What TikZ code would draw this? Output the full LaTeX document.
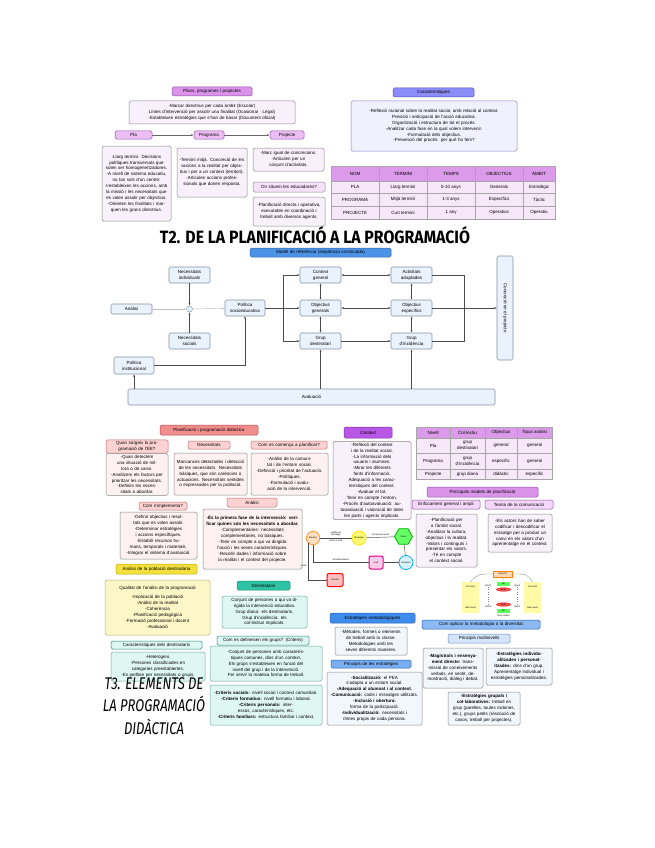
\documentclass[tikz,border=0pt]{standalone}
\usepackage{fontspec}
\setmainfont{Liberation Sans}
\newfontfamily\handfont{Fira Sans}
\usetikzlibrary{arrows.meta,shapes.geometric}
\newcommand\smalltxt{\fontsize{4.5}{5.9}\selectfont}
\newcommand\tinytxt{\fontsize{2.3}{2.8}\selectfont}

\definecolor{purHdr}{HTML}{DB93EA}
\definecolor{purLight}{HTML}{EDBDF5}
\definecolor{purEdge}{HTML}{8E4FA3}
\definecolor{lilac}{HTML}{F8F1FB}
\definecolor{noteEdge}{HTML}{8A8A8A}
\definecolor{periHdr}{HTML}{8D8DF7}
\definecolor{periEdge}{HTML}{4F4FB8}
\definecolor{periLight}{HTML}{F1F1FE}
\definecolor{tabHead}{HTML}{DC9BEA}
\definecolor{tabCell}{HTML}{F7E8F9}
\definecolor{flowHdr}{HTML}{4B93E6}
\definecolor{flowFill}{HTML}{EAF2FC}
\definecolor{flowEdge}{HTML}{8593A3}
\definecolor{salmon}{HTML}{F08D8D}
\definecolor{salmonEdge}{HTML}{B54A4A}
\definecolor{pinkHdr}{HTML}{FCD2D2}
\definecolor{pinkNote}{HTML}{FDF1F1}
\definecolor{lemon}{HTML}{F3E03C}
\definecolor{lemonEdge}{HTML}{BFA800}
\definecolor{violet}{HTML}{B857E6}
\definecolor{violetEdge}{HTML}{7A2EA6}
\definecolor{cream}{HTML}{FCF7C6}
\definecolor{creamEdge}{HTML}{B8B070}
\definecolor{teal}{HTML}{2EC4A3}
\definecolor{tealEdge}{HTML}{1C8A72}
\definecolor{aqua}{HTML}{DFF7F3}
\definecolor{aquaEdge}{HTML}{6EA9A0}
\definecolor{royal}{HTML}{3F8CEB}
\definecolor{royalEdge}{HTML}{2160B4}
\definecolor{skyHdr}{HTML}{8DB9F3}
\definecolor{ice}{HTML}{F2F6FD}
\definecolor{iceHdr}{HTML}{D5E4FA}

\begin{document}
\begin{tikzpicture}[x=1pt, y=-1pt,
    every node/.style={font=\smalltxt, inner sep=1.5pt},
    sz/.code 2 args={\pgfmathsetmacro\boxtw{#1-4}%
      \edef\boxopts{\noexpand\tikzset{minimum width=#1pt,minimum height=#2pt,text width=\boxtw pt}}\boxopts},
    card/.style={rounded corners=1.5pt, align=center, line width=.5pt},
    phdr/.style={card, fill=purHdr, draw=purEdge},
    plhdr/.style={card, fill=purLight, draw=purEdge},
    pnote/.style={card, fill=lilac, draw=noteEdge},
    bhdr/.style={card, fill=periHdr, draw=periEdge},
    bnote/.style={card, fill=periLight, draw=periEdge!70},
    thead/.style={draw=gray!70, fill=tabHead, align=center, inner sep=.5pt},
    tcell/.style={draw=gray!70, fill=tabCell, align=center, inner sep=.5pt},
    fnode/.style={card, fill=flowFill, draw=flowEdge, line width=.6pt},
    fhdr/.style={card, fill=flowHdr, draw=flowHdr!70!black},
    rhdr/.style={card, fill=salmon, draw=salmonEdge},
    pkhdr/.style={card, fill=pinkHdr, draw=salmonEdge!80},
    pknote/.style={card, fill=pinkNote, draw=noteEdge},
    vhdr/.style={card, fill=violet, draw=violetEdge},
    chdr/.style={card, fill=teal, draw=tealEdge},
    cnote/.style={card, fill=aqua, draw=aquaEdge},
    lhdr/.style={card, fill=aqua, draw=tealEdge},
    ehdr/.style={card, fill=royal, draw=royalEdge},
    inote/.style={card, fill=ice, draw=noteEdge},
    link/.style={draw=gray!80!black, line width=.45pt},
    farr/.style={draw=black!70, line width=.45pt},
    >={Latex[length=2.4pt,width=2pt]}]

\useasboundingbox (0,0) rectangle (655,848);
\fill[white] (0,0) rectangle (655,848);

% plans, programes i projectes
\node[phdr, sz={80}{9}] (planshdr) at (212,91.5) {Plans, programes i projectes};
\node[pnote, sz={166}{23}] (plansdesc) at (212,112.5) {-Marcar directrius per cada àmbit (Escolar)\\Línies d'intervenció per assolir una finalitat (Ocasional · Legal)\\-Estableixen estratègies que s'han de basar (Document oficial)};
\node[plhdr, sz={37}{8}] (pla) at (133.5,135) {Pla};
\node[plhdr, sz={30}{8}] (programa) at (209,135) {Programa};
\node[plhdr, sz={34}{8}] (projecte) at (287,135) {Projecte};
\draw[link,->] (pla) -- (programa);
\draw[link,->] (programa) -- (projecte);
\node[pnote, sz={69}{75}] (platext) at (136.5,183.5) {-Llarg termini. Decisions polítiques transversals que solen ser homogeneïtzadores.\\-A nivell de sistema educatiu, no tan sols d'un centre: s'estableixen les accions, amb la missió i les necessitats que es volen assolir per objectius.\\-Orienten les finalitats i marquen les grans directrius.};
\node[pnote, sz={70}{49}] (progtext) at (212,172.5) {-Termini mitjà. Concreció de les accions a la realitat per objectius i per a un context (territori).\\-Articulen accions professionals que donen resposta.};
\node[pnote, sz={71}{23}] (projtext) at (288.5,159.5) {-Marc igual de concrecions.\\-Articulen per un conjunt d'activitats.};
\node[pnote, fill=purLight!45, sz={72}{10}] (edu) at (289,187) {On situem les educadores?};
\node[pnote, sz={72}{29}] (edutext) at (289,211.5) {-Planificació directa i operativa, executable en coordinació i treball amb diversos agents.};

% característiques
\node[bhdr, sz={81}{9}] (caracthdr) at (433.5,92.5) {Característiques};
\node[bnote, sz={166}{50}] (caracttext) at (434,126) {-Reflexió racional sobre la realitat social, amb relació al context.\\Previsió i anticipació de l'acció educativa.\\Organització i estructura de tot el procés.\\-Analitzar cada fase en la qual volem intervenir.\\-Formulació dels objectius.\\-Prevenció del procés: per què ho fem?};

% taula de nivells
\foreach \cx/\cw/\txt [count=\c] in {355/48/NOM,403/48/TERMINI,451/48/TEMPS,499/48/OBJECTIUS,539/32/ÀMBIT}
  \node[thead, minimum width=\cw pt, minimum height=15pt] (ta\c) at (\cx,173.5) {\txt};
\foreach \ry/\rh/\ca/\cb/\cc/\cd/\ce [count=\r] in {187/12/PLA/Llarg termini/5-10 anys/Generals/Estratègic,199.5/13/PROGRAMA/Mitjà termini/1-3 anys/Específics/Tàctic,212.5/13/PROJECTE/Curt termini/1 any/Operatius/Operatiu} {
  \node[tcell, minimum width=48pt, minimum height=\rh pt] (tb\r a) at (355,\ry) {\ca};
  \node[tcell, minimum width=48pt, minimum height=\rh pt] (tb\r b) at (403,\ry) {\cb};
  \node[tcell, minimum width=48pt, minimum height=\rh pt] (tb\r c) at (451,\ry) {\cc};
  \node[tcell, minimum width=48pt, minimum height=\rh pt] (tb\r d) at (499,\ry) {\cd};
  \node[tcell, minimum width=32pt, minimum height=\rh pt] (tb\r e) at (539,\ry) {\ce};
}

\node (titleA) at (315,235) {\resizebox{310pt}{17pt}{\handfont\bfseries T2. DE LA PLANIFICACIÓ A LA PROGRAMACIÓ}};

% model de referència
\node[fhdr, sz={141}{9}] (modelhdr) at (320.5,252.5) {Model de referència (seqüència continuada)};
\node[fnode, sz={41}{16}] (necind) at (189.5,275) {Necessitats\\individuals};
\node[fnode, sz={41}{10}] (analisi) at (131.5,309) {Anàlisi};
\node[circle, draw=flowEdge, fill=cyan!15, minimum size=6pt, inner sep=0] (junc) at (189.5,309) {};
\node[fnode, sz={41}{16}] (necsoc) at (189.5,341) {Necessitats\\socials};
\node[fnode, sz={40}{16}] (politica) at (245,308) {Política\\socioeducativa};
\node[fnode, sz={41}{16}] (context) at (320.5,275) {Context\\general};
\node[fnode, sz={41}{16}] (objgen) at (320.5,308) {Objectius\\generals};
\node[fnode, sz={41}{16}] (grupdest) at (320.5,341) {Grup\\destinatari};
\node[fnode, sz={41}{16}] (activ) at (411.5,275) {Activitats\\adaptades};
\node[fnode, sz={41}{16}] (objesp) at (411.5,308) {Objectius\\específics};
\node[fnode, sz={41}{16}] (grupinc) at (411.5,341) {Grup\\d'incidència};
\node[fnode, rotate=-90, sz={104}{16}] (concrecio) at (505,308) {Concreció en el projecte};
\node[fnode, sz={40}{17}] (polinst) at (134,365.5) {Política\\institucional};
\node[fnode, sz={367}{16}] (avaluacio) at (311.5,397) {Avaluació};
\coordinate (branch) at (283,308);
\coordinate (collect) at (464,308);
\draw[farr, draw=gray!50, ->] (analisi) -- (junc);
\draw[farr, ->] (necind) -- (junc);
\draw[farr, ->] (necsoc) -- (junc);
\draw[farr, draw=gray!50, ->] (junc) -- (politica);
\draw[farr, ->] (politica) -- (objgen);
\draw[farr, ->] (branch) |- (context);
\draw[farr, ->] (branch) |- (grupdest);
\draw[farr, <->] (context) -- (objgen);
\draw[farr, <->] (objgen) -- (grupdest);
\draw[farr, <->] (context) -- (activ);
\draw[farr, <->] (objgen) -- (objesp);
\draw[farr, ->] (grupdest) -- (grupinc);
\draw[farr, <->] (activ) -- (objesp);
\draw[farr, <->] (objesp) -- (grupinc);
\draw[farr] (activ.east) -| (collect);
\draw[farr] (grupinc.east) -| (collect);
\draw[farr, ->] (objesp) -- (concrecio);
\draw[farr, ->] (avaluacio.north -| grupdest) -- (grupdest);
\draw[farr, ->] (avaluacio.north -| grupinc) -- (grupinc);
\draw[farr, ->] (avaluacio.north -| polinst) -- (polinst);
\draw[farr, ->] (polinst) -| (politica);

% planificació i programació didàctica
\node[rhdr, sz={98}{10}] (planhdr) at (209,430) {Planificació i programació didàctica};
\node[pkhdr, sz={62}{13}] (quan) at (137,446.5) {Quan sorgeix la programació de l'EE?};
\node[pkhdr, sz={42}{8}] (necess) at (209,445) {Necessitats};
\node[pkhdr, sz={76}{8}] (coms) at (289,445) {Com es comença a planificar?};
\node[pknote, sz={62}{37}] (quantext) at (137,474.5) {-Quan detectem una situació de millora o de canvi.\\-Analitzem els factors per prioritzar les necessitats.\\-Definim les necessitats a abordar.};
\node[pknote, sz={73}{42}] (necesstext) at (210.5,474) {Mancances detectades i detecció de les necessitats. Necessitats bàsiques, que són carències o actuacions. Necessitats sentides o expressades per la població.};
\node[pknote, sz={77}{42}] (comstext) at (289.5,474) {-Anàlisi de la comunitat i de l'entorn social.\\-Definició i prioritat de l'actuació.\\-Polítiques.\\-Formulació i avaluació de la intervenció.};
\node[pkhdr, sz={48}{8}] (implementa) at (163,506) {Com s'implementa?};
\node[pkhdr, sz={50}{9}] (analisib) at (252,502.5) {Anàlisi};
\node[pknote, sz={77}{47}] (impltext) at (158.5,535.5) {-Definir objectius i resultats que es volen assolir.\\-Determinar estratègies i accions específiques.\\-Establir recursos humans, temporals i materials.\\-Integrar el sistema d'avaluació.};
\node[pknote, sz={99}{60}] (analtext) at (252.5,539) {\textbf{-És la primera fase de la intervenció: verificar quines són les necessitats a abordar.}\\-Complementàries: necessitats complementàries, no bàsiques.\\-Tenir en compte a qui va dirigida l'acció i les seves característiques.\\-Recollir dades i informació sobre la realitat i el context del projecte.};
\node[card, fill=lemon, draw=lemonEdge, sz={81}{10}] (poblacio) at (156.5,569) {Anàlisi de la població destinatària};

% context
\node[vhdr, sz={48}{11}] (contexthdr) at (368,432.5) {Context};
\node[pnote, sz={78}{75}] (contexttext) at (372,480.5) {-Reflexió del context i de la realitat social.\\-La informació dels usuaris i alumnes.\\-Mirar les diferents fonts d'informació.\\Adequació a les característiques del context.\\-Avaluar el tot.\\Tenir en compte l'entorn.\\-Procés d'autoavaluació: autoavaluació i valoració de totes les parts i agents implicats.};

% taula de col·lectius
\foreach \cx/\cw/\txt [count=\c] in {433/34/Nivell,467.5/35/Col·lectiu,501/32/Objectius,534.5/35/Tipus anàlisi}
  \node[thead, minimum width=\cw pt, minimum height=11pt] (tc\c) at (\cx,432.5) {\txt};
\foreach \ry/\rh/\ca/\cb/\cc/\cd [count=\r] in {445.5/15/Pla/grup\\destinatari/general/general,461/16/Programa/grup\\d'incidència/específic/general,474/10/Projecte/grup diana/didàctic/específic} {
  \node[tcell, minimum width=34pt, minimum height=\rh pt] (td\r a) at (433,\ry) {\ca};
  \node[tcell, minimum width=35pt, minimum height=\rh pt] (td\r b) at (467.5,\ry) {\cb};
  \node[tcell, minimum width=32pt, minimum height=\rh pt] (td\r c) at (501,\ry) {\cc};
  \node[tcell, minimum width=35pt, minimum height=\rh pt] (td\r d) at (534.5,\ry) {\cd};
}

\node[phdr, sz={111}{10}] (modelshdr) at (482.5,492) {Principals models de planificació};
\node[plhdr, fill=purLight!60, sz={68}{9}] (enfoc) at (446,504.5) {Enfocament general i ampli};
\node[plhdr, fill=purLight!60, sz={68}{9}] (teoria) at (519,504.5) {Teoria de la comunicació};
\node[pnote, sz={61}{53}] (enfoctext) at (446.5,540.5) {-Planificació per a l'àmbit social.\\-Analitzar la cultura, objectius i la realitat.\\-Valors i continguts i presentar els valors.\\-Té en compte el context social.};
\node[pnote, sz={64}{38}] (teoriatext) at (520,533) {-Els actors han de saber codificar i descodificar el missatge per a produir un canvi en els valors d'un aprenentatge en el context.};

% esquema de la comunicació
\node[circle, draw=orange!80, fill=orange!25, line width=.8pt, minimum size=13.5pt, inner sep=0, font=\tinytxt] (emissor) at (313,538) {Emissor};
\node[circle, draw=yellow!90!orange, fill=yellow!55, line width=.8pt, minimum size=14pt, inner sep=0, font=\tinytxt] (missatge) at (359,538) {Missatge};
\node[regular polygon, regular polygon sides=6, draw=green!70!black, fill=green!60, line width=.8pt, minimum size=18pt, inner sep=0, font=\tinytxt] (canal) at (403.5,536.5) {Canal};
\node[circle, draw=cyan, fill=cyan!15, line width=.8pt, minimum size=14pt, inner sep=0, font=\tinytxt] (receptor) at (406,562.5) {Receptor};
\node[draw=magenta, fill=magenta!20, rounded corners=2pt, line width=1pt, minimum width=14pt, minimum height=13pt, inner sep=0, font=\tinytxt] (codi) at (376,562.5) {Codi};
\node[draw=red, fill=red!25, rounded corners=2pt, line width=1pt, minimum width=16pt, minimum height=13pt, inner sep=0, font=\tinytxt] (soroll) at (335,580) {Context};
\draw[farr] (emissor) -- node[above, font=\tinytxt, align=center] {codifica el\\missatge} node[below, font=\tinytxt] {amb un codi} (missatge);
\draw[farr] (missatge) -- node[above, font=\tinytxt] {s'envia pel canal} (canal);
\draw[farr] (canal) -- (receptor);
\draw[farr] (receptor) -- (codi);
\draw[farr] (codi.west) -| node[pos=.25, above, font=\tinytxt] {retroalimentació} (emissor.south);
\draw[farr] (soroll.west) -| node[pos=.7, left, font=\tinytxt, align=center] {soroll} (emissor.south west);

% nivells
\node[draw=orange, fill=orange!30, minimum width=19pt, minimum height=6pt, inner sep=0, font=\tinytxt] (pyrtop) at (502.5,574) {Alumnat};
\node[fill=yellow!35, minimum width=17pt, minimum height=31pt, inner sep=.5pt, font=\tinytxt, align=center] (pyrleft) at (470.5,597.5) {Alt nivell\\[18pt]Baix nivell};
\node[fill=yellow!35, minimum width=17pt, minimum height=31pt, inner sep=.5pt, font=\tinytxt, align=center] (pyrright) at (532.5,597.5) {Alt nivell\\[18pt]Baix nivell};
\node[fill=green!65, minimum width=13pt, minimum height=4pt, inner sep=0, font=\tinytxt] (grnA) at (503.5,583.5) {Bé};
\node[ellipse, draw=red, fill=red!65, minimum width=14pt, minimum height=3.5pt, inner sep=0, font=\tinytxt] (redA) at (503.5,589.5) {Ajuda};
\node[ellipse, draw=red, fill=red!65, minimum width=14pt, minimum height=3.5pt, inner sep=0, font=\tinytxt] (redB) at (503.5,604.5) {Ajuda};
\node[fill=green!65, minimum width=13pt, minimum height=4pt, inner sep=0, font=\tinytxt] (grnB) at (503.5,610.5) {Bé};
\node[font=\tinytxt, inner sep=0] (lvA) at (488,586) {Nivell};
\node[font=\tinytxt, inner sep=0] (lvB) at (488,607) {Nivell};
\node[font=\tinytxt, inner sep=0] (lvC) at (517,586) {Nivell};
\node[font=\tinytxt, inner sep=0] (lvD) at (517,607) {Nivell};
\node[font=\tinytxt, inner sep=0] (pyrfoot) at (503.5,616) {Grup classe};
\draw[gray, line width=.3pt] (pyrtop.west) .. controls (478,574) .. (pyrleft.north);
\draw[gray, line width=.3pt] (pyrtop.east) .. controls (527,574) .. (pyrright.north);
\draw[gray, line width=.3pt] (pyrtop) -- (grnA);
\draw[gray, dotted] (lvA) -- (lvB);
\draw[gray, dotted] (lvC) -- (lvD);

% destinataris
\node[card, fill=cream, draw=creamEdge, sz={105}{55}] (qualitat) at (157.5,607.5) {Qualitat de l'anàlisi de la programació\\[3pt]-Implicació de la població\\-Anàlisi de la realitat\\-Coherència\\-Planificació pedagògica\\-Formació professional i docent\\-Avaluació};
\node[chdr, sz={53}{9}] (destinhdr) at (263.5,585.5) {Destinataris};
\node[cnote, sz={85}{32}] (destintext) at (264.5,612) {Conjunt de persones a qui va dirigida la intervenció educativa.\\Grup diana: els destinataris.\\Grup d'incidència: els col·lectius implicats.};
\node[lhdr, sz={92}{9}] (grupshdr) at (263,640.5) {Com es defineixen els grups? (Criteris)};
\node[lhdr, sz={91}{8}] (caractdesthdr) at (156.5,645) {Característiques dels destinataris};
\node[cnote, sz={94}{29}] (caractdesttext) at (158,666.5) {-Heterogeni.\\-Persones classificades en categories preestablertes.\\-Es perfilen per necessitats o grups.};
\node[cnote, sz={112}{35}] (grupstext) at (266,663.5) {-Conjunt de persones amb característiques comunes, dins d'un context.\\Els grups s'estableixen en funció del nivell del grup i de la intervenció.\\Fer servir la mateixa forma de treball.};
\node[cnote, sz={112}{40}] (criteris) at (266,705) {\textbf{-Criteris socials:} nivell social i context comunitari.\\\textbf{-Criteris formatius:} nivell formatiu i laboral.\\\textbf{-Criteris personals:} interessos, característiques, etc.\\\textbf{-Criteris familiars:} estructura familiar i context.};

\node (titleB) at (154,707.5) {\resizebox{102pt}{38pt}{\handfont\itshape\begin{tabular}{@{}c@{}}T3. ELEMENTS DE\\LA PROGRAMACIÓ\\DIDÀCTICA\end{tabular}}};

% estratègies
\node[ehdr, sz={85}{10}] (estrathdr) at (372.5,618) {Estratègies metodològiques};
\node[inote, sz={72}{28}] (estrattext) at (371,641) {-Mètodes, formes o elements de treball amb la classe.\\Metodologies amb les seves diferents maneres.};
\node[card, fill=royal!70, draw=royalEdge, sz={80}{8}] (principishdr) at (371,664) {Principis de les estratègies};
\node[inote, sz={95}{53}] (principistext) at (374.5,698.5) {\textbf{-Socialització:} el PEA s'adapta a un entorn social.\\\textbf{-Adequació al alumnat i al context.}\\\textbf{-Comunicació:} codis i missatges utilitzats.\\\textbf{-Inclusió i obertura:} forma de la participació.\\\textbf{-Individualització:} necessitats i ritmes propis de cada persona.};
\node[card, fill=skyHdr, draw=royalEdge, sz={118}{9}] (aplicarhdr) at (481,624.5) {Com aplicar la metodologia a la diversitat};
\node[card, fill=iceHdr, draw=royalEdge!70, sz={62}{9}] (multihdr) at (479,638.5) {Principis multinivells};
\node[inote, sz={60}{40}] (magistral) at (453,668) {\textbf{-Magistrals i ensenyament directe:} transmissió de coneixements verbals, en sentit, demostració, diàleg i debat.};
\node[inote, sz={66}{37}] (individual) at (519,666.5) {\textbf{-Estratègies individualitzades i personalitzades:} dins d'un grup. Aprenentatge individual i estratègies personalitzades.};
\node[inote, sz={72}{33}] (grupals) at (484,708.5) {\textbf{-Estratègies grupals i col·laboratives:} treball en grup (parelles, taules rodones, etc.), grups petits (resolució de casos, treball per projectes).};
\end{tikzpicture}
\end{document}
